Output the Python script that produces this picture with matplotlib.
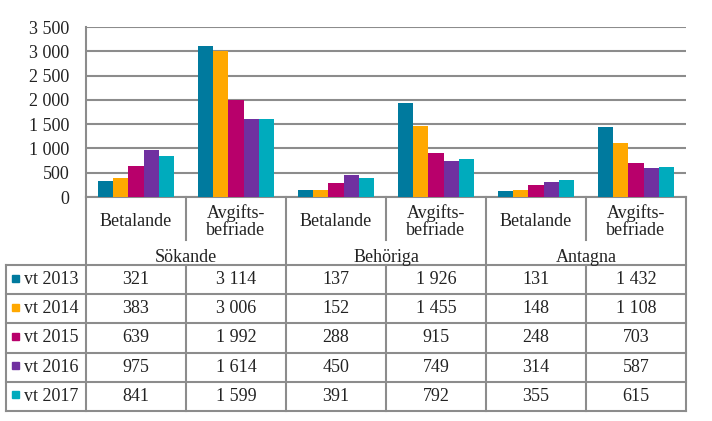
import numpy as np
import matplotlib.pyplot as plt

# Data
groups = ["Sökande", "Behöriga", "Antagna"]
subcats = ["Betalande", "Avgifts-\nbefriade"]
series = ["vt 2013", "vt 2014", "vt 2015", "vt 2016", "vt 2017"]
vt2013 = [321, 3114, 137, 1926, 131, 1432]
vt2014 = [383, 3006, 152, 1455, 148, 1108]
vt2015 = [639, 1992, 288, 915, 248, 703]
vt2016 = [975, 1614, 450, 749, 314, 587]
vt2017 = [841, 1599, 391, 792, 355, 615]
values = [vt2013, vt2014, vt2015, vt2016, vt2017]
colors = ["#007a9e", "#ffa800", "#b8006b", "#7030a0", "#00abbd"]

plt.rcParams['font.family'] = ['Liberation Serif', 'DejaVu Serif']
FS = 13
GRAY = "#8c8c8c"
TXT = "#222222"

W, H = 712, 421
fig = plt.figure(figsize=(W / 100, H / 100), dpi=100)

# pixel layout
L, R = 86, 686
TOP, BASE = 27, 197
SUB_BOTTOM = 240
ROW_TOP = 265
ROW_H = 29.2
TAB_LEFT = 6
ncol = len(vt2013)
colw = (R - L) / ncol


def fmt(v):
    return f"{v:,}".replace(",", " ")


# overlay for the data table
tab = fig.add_axes([0, 0, 1, 1])
tab.set_xlim(0, W)
tab.set_ylim(H, 0)
tab.axis("off")

ax = fig.add_axes([L / W, 1 - BASE / H, (R - L) / W, (BASE - TOP) / H])
x = np.arange(ncol)
bw = 1 / 6.5
for i, (name, vals) in enumerate(zip(series, values)):
    ax.bar(x + (i - 2) * bw, vals, width=bw, color=colors[i], zorder=3)
ax.set_xlim(-0.5, ncol - 0.5)
ax.set_ylim(0, 3500)
ax.set_yticks(np.arange(0, 3501, 500))
ax.set_yticklabels([fmt(v) for v in range(0, 3501, 500)], fontsize=FS, color=TXT)
ax.tick_params(axis="y", length=0, pad=12)
ax.set_xticks([])
ax.grid(axis="y", color=GRAY, lw=1.5, zorder=0)
for s in ["top", "right", "bottom"]:
    ax.spines[s].set_visible(False)
ax.spines["left"].set_color(GRAY)
ax.spines["left"].set_linewidth(1.5)
ax.patch.set_alpha(0)

lw = 1.5
n_rows = len(series)
row_bottom = ROW_TOP + n_rows * ROW_H
# horizontal lines
tab.plot([L, R], [BASE, BASE], color=GRAY, lw=lw)
for r in range(n_rows + 1):
    yy = ROW_TOP + r * ROW_H
    tab.plot([TAB_LEFT, R], [yy, yy], color=GRAY, lw=lw)
# vertical lines
tab.plot([TAB_LEFT, TAB_LEFT], [ROW_TOP, row_bottom], color=GRAY, lw=lw)
for j in range(ncol + 1):
    xx = L + j * colw
    if j % 2 == 0:
        tab.plot([xx, xx], [BASE, row_bottom], color=GRAY, lw=lw)
    else:
        tab.plot([xx, xx], [BASE, SUB_BOTTOM], color=GRAY, lw=lw)
        tab.plot([xx, xx], [ROW_TOP, row_bottom], color=GRAY, lw=lw)

# header labels
for j in range(ncol):
    cx = L + (j + 0.5) * colw
    tab.text(cx, 221.5, subcats[j % 2], ha="center", va="center",
             fontsize=FS, color=TXT, linespacing=1.0)
for g, name in enumerate(groups):
    cx = L + (2 * g + 1) * colw
    tab.text(cx, 257, name, ha="center", va="center", fontsize=FS, color=TXT)

# data rows
for r, (name, vals) in enumerate(zip(series, values)):
    cy = ROW_TOP + (r + 0.5) * ROW_H
    tab.add_patch(plt.Rectangle((12, cy - 5), 7, 7, color=colors[r]))
    tab.text(24, cy, name, ha="left", va="center", fontsize=FS, color=TXT)
    for j, v in enumerate(vals):
        tab.text(L + (j + 0.5) * colw, cy, fmt(v), ha="center", va="center",
                 fontsize=FS, color=TXT)

fig.savefig("out.png", dpi=100)
